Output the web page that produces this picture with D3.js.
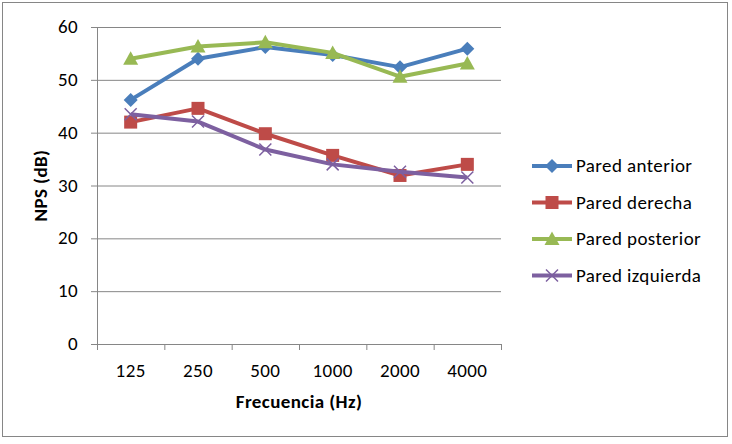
<!DOCTYPE html>
<html>
<head>
<meta charset="utf-8">
<script src="https://cdn.jsdelivr.net/npm/d3@7"></script>
<style>
  body { margin: 0; background: #fff; }
  text { font-family: Carlito, Lato, "Open Sans", sans-serif; fill: #000; letter-spacing: 0.4px; }
</style>
</head>
<body>
<svg id="chart" width="732" height="444"></svg>
<script>
var categories = ['125', '250', '500', '1000', '2000', '4000']
var anterior = [46.2, 54.0, 56.2, 54.7, 52.4, 55.9]
var derecha = [42.0, 44.6, 39.8, 35.7, 31.9, 34.0]
var posterior = [54.0, 56.3, 57.1, 55.1, 50.6, 53.1]
var izquierda = [43.5, 42.1, 36.8, 34.0, 32.6, 31.5]
var yTicks = [0, 10, 20, 30, 40, 50, 60]

var series = [
  { name: 'Pared anterior', values: anterior, color: '#4a7ebb', symbol: 'diamond' },
  { name: 'Pared derecha', values: derecha, color: '#be4b48', symbol: 'square' },
  { name: 'Pared posterior', values: posterior, color: '#98b954', symbol: 'triangle' },
  { name: 'Pared izquierda', values: izquierda, color: '#7d60a0', symbol: 'cross' }
]

var svg = d3.select('#chart')
var plot = { left: 97, right: 501, top: 27, bottom: 344 }
var fontSize = '19px'

svg.append('rect')
    .attr('x', 2.5).attr('y', 2.5)
    .attr('width', 725).attr('height', 434)
    .attr('fill', '#fff')
    .attr('stroke', '#868686')

var x = d3.scaleBand()
    .domain(categories)
    .range([plot.left, plot.right])

var y = d3.scaleLinear()
    .domain([0, 60])
    .range([plot.bottom, plot.top])

// gridlines
svg.append('g')
    .selectAll('line')
    .data(yTicks)
    .join('line')
    .attr('x1', plot.left - 6).attr('x2', plot.right)
    .attr('y1', function (d) { return y(d) + 0.5 })
    .attr('y2', function (d) { return y(d) + 0.5 })
    .attr('stroke', '#868686')

// y axis
svg.append('line')
    .attr('x1', plot.left + 0.5).attr('x2', plot.left + 0.5)
    .attr('y1', plot.top).attr('y2', plot.bottom + 6)
    .attr('stroke', '#868686')

svg.append('g')
    .selectAll('text')
    .data(yTicks)
    .join('text')
    .attr('x', plot.left - 19)
    .attr('y', function (d) { return y(d) + 6 })
    .attr('text-anchor', 'end')
    .style('font-size', fontSize)
    .text(function (d) { return d })

// x axis ticks
svg.append('g')
    .selectAll('line')
    .data(categories.concat(['end']))
    .join('line')
    .attr('x1', function (d, i) { return plot.left + i * x.bandwidth() + 0.5 })
    .attr('x2', function (d, i) { return plot.left + i * x.bandwidth() + 0.5 })
    .attr('y1', plot.bottom).attr('y2', plot.bottom + 6)
    .attr('stroke', '#868686')

svg.append('g')
    .selectAll('text')
    .data(categories)
    .join('text')
    .attr('x', function (d) { return x(d) + x.bandwidth() / 2 })
    .attr('y', 377)
    .attr('text-anchor', 'middle')
    .style('font-size', fontSize)
    .text(function (d) { return d })

svg.append('text')
    .attr('x', (plot.left + plot.right) / 2)
    .attr('y', 408)
    .attr('text-anchor', 'middle')
    .style('font-size', fontSize)
    .style('font-weight', 'bold')
    .text('Frecuencia (Hz)')

svg.append('text')
    .attr('transform', 'translate(47,' + (plot.top + plot.bottom) / 2 + ') rotate(-90)')
    .attr('text-anchor', 'middle')
    .style('font-size', fontSize)
    .style('font-weight', 'bold')
    .text('NPS (dB)')

function drawMarker (g, s, cx, cy) {
  if (s.symbol === 'diamond') {
    g.append('path')
        .attr('d', 'M' + cx + ',' + (cy - 7) + 'L' + (cx + 7) + ',' + cy + 'L' + cx + ',' + (cy + 7) + 'L' + (cx - 7) + ',' + cy + 'Z')
        .attr('fill', s.color)
  } else if (s.symbol === 'square') {
    g.append('rect')
        .attr('x', cx - 6.5).attr('y', cy - 6.5)
        .attr('width', 13).attr('height', 13)
        .attr('fill', s.color)
  } else if (s.symbol === 'triangle') {
    g.append('path')
        .attr('d', 'M' + cx + ',' + (cy - 7.5) + 'L' + (cx + 7.5) + ',' + (cy + 6) + 'L' + (cx - 7.5) + ',' + (cy + 6) + 'Z')
        .attr('fill', s.color)
  } else {
    g.append('path')
        .attr('d', 'M' + (cx - 6) + ',' + (cy - 6) + 'L' + (cx + 6) + ',' + (cy + 6) + 'M' + (cx + 6) + ',' + (cy - 6) + 'L' + (cx - 6) + ',' + (cy + 6))
        .attr('stroke', s.color)
        .attr('stroke-width', 1.5)
        .attr('fill', 'none')
  }
}

var line = d3.line()
    .x(function (d, i) { return x(categories[i]) + x.bandwidth() / 2 })
    .y(function (d) { return y(d) })

series.forEach(function (s) {
  var g = svg.append('g').attr('class', 'series')
  g.append('path')
      .attr('d', line(s.values))
      .attr('fill', 'none')
      .attr('stroke', s.color)
      .attr('stroke-width', 4)
      .attr('stroke-linejoin', 'round')
  s.values.forEach(function (v, i) {
    drawMarker(g, s, x(categories[i]) + x.bandwidth() / 2, y(v))
  })
})

// legend
var legend = svg.append('g').attr('class', 'legend')
series.forEach(function (s, i) {
  var ly = 166 + i * 36.5
  var g = legend.append('g')
  g.append('line')
      .attr('x1', 532).attr('x2', 572)
      .attr('y1', ly).attr('y2', ly)
      .attr('stroke', s.color)
      .attr('stroke-width', 4)
  drawMarker(g, s, 552, ly)
  g.append('text')
      .attr('x', 576)
      .attr('y', ly + 6)
      .style('font-size', fontSize)
      .text(s.name)
})
</script>
</body>
</html>
